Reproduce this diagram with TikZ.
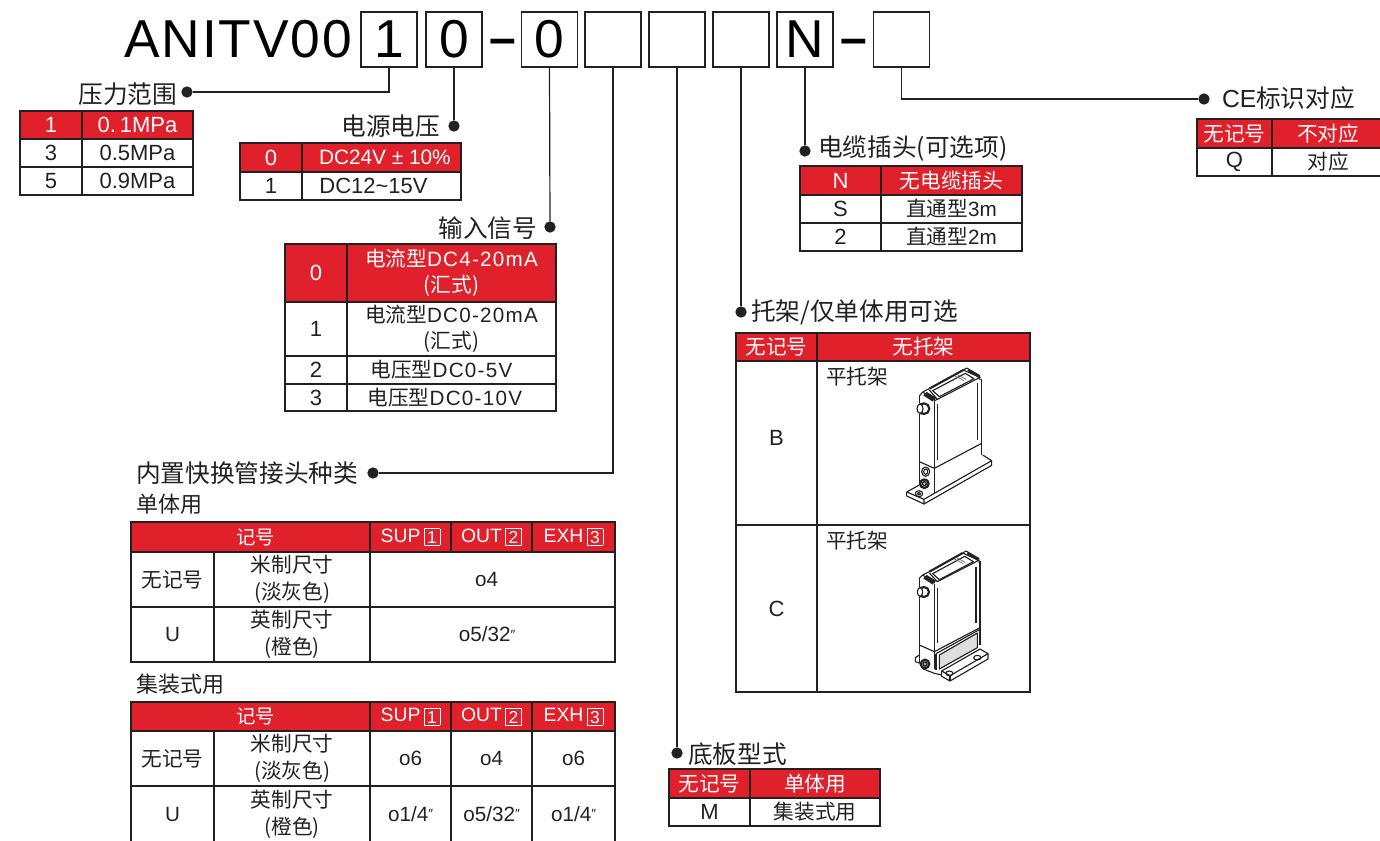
\documentclass[tikz,border=0pt]{standalone}
\usepackage{fontspec}
\setmainfont{Liberation Sans}
\newfontfamily\zhf{Noto Sans CJK SC}
\newfontfamily\titlef[LetterSpace=3.5]{Liberation Sans}
\newfontfamily\spacedf[LetterSpace=6]{Liberation Sans}
\newcommand\zh[1]{{\zhf #1}}
\newcommand\spc[1]{{\spacedf #1}}
\newcommand\inch{{\fontsize{10}{10}\selectfont\raisebox{2pt}{″}}}
\definecolor{redcell}{HTML}{E0202B}
\definecolor{ink}{HTML}{232020}
\definecolor{plategray}{HTML}{DEDEDE}
\newcommand\nbx[1]{\setlength\fboxsep{0.4pt}\setlength\fboxrule{0.45pt}\raisebox{-1.6pt}{\fbox{\makebox[10.8pt]{\rule{0pt}{11.2pt}\fontsize{13}{13}\selectfont\raisebox{0.6pt}{#1}}}}}
\tikzset{
  codebox/.style={draw=ink,line width=0.9pt,inner sep=0pt,outer sep=0pt,minimum width=42pt,minimum height=41.25pt,font=\fontsize{40}{44}\selectfont,text=black},
  conn/.style={draw=ink,line width=0.9pt},
  leader/.style={circle,fill=ink,inner sep=0pt,outer sep=0pt,minimum size=8.5pt},
  dashmark/.style={inner sep=0pt,font=\fontsize{36}{40}\selectfont\bfseries,text=black},
  lab/.style={inner sep=0pt,outer sep=0pt,text=ink,font=\fontsize{18.5}{22}\selectfont},
  subl/.style={inner sep=0pt,outer sep=0pt,text=ink,font=\fontsize{16.5}{20}\selectfont},
  cellb/.style={draw=ink,line width=0.9pt,inner sep=0pt,outer sep=0pt,align=center,text=ink},
  bigc/.style={cellb,font=\fontsize{16.5}{20}\selectfont},
  midc/.style={cellb,font=\fontsize{15.5}{20}\selectfont},
  redb/.style={bigc,fill=redcell,text=white},
  redm/.style={midc,fill=redcell,text=white},
  redh/.style={cellb,fill=redcell,text=white,font=\fontsize{14.5}{18}\selectfont},
  dev/.style={draw=ink,line width=0.85pt,line join=round},
  devk/.style={draw=ink,line width=1.6pt,line join=round},
  devt/.style={draw=ink!70,line width=0.5pt},
}
\newcommand\cellbox[7]{%
  \pgfmathsetmacro\cw{(#5-#3)*0.75}%
  \pgfmathsetmacro\ch{(#6-#4)*0.75}%
  \pgfmathsetmacro\cx{(#3+#5)/2}%
  \pgfmathsetmacro\cy{(#4+#6)/2}%
  \node[#1,minimum width=\cw pt,minimum height=\ch pt] (#2) at (\cx,\cy) {#7};}
\begin{document}
\begin{tikzpicture}[x=0.75pt,y=-0.75pt]
\useasboundingbox (0,0) rectangle (1380,840);
% code line
\node[inner sep=0pt,anchor=west,font=\fontsize{40}{44}\selectfont\titlef,text=black] (title) at (124,39) {ANITV00};
\node[codebox] (b1) at (389,39.5) {1};
\node[codebox] (b2) at (454,39.5) {0};
\node[dashmark] (m1) at (503,40) {\raisebox{-11pt}[0pt][0pt]{–}};
\node[codebox] (b3) at (549.5,39.5) {0};
\node[codebox] (b4) at (613,39.5) {};
\node[codebox] (b5) at (677,39.5) {};
\node[codebox] (b6) at (741,39.5) {};
\node[codebox] (b7) at (805,39.5) {N};
\node[dashmark] (m2) at (854,40) {\raisebox{-11pt}[0pt][0pt]{–}};
\node[codebox] (b8) at (901.5,39.5) {};
% leader dots
\node[leader] (d1) at (187,92) {};
\node[leader] (d2) at (454,126) {};
\node[leader] (d3) at (550,227) {};
\node[leader] (d4) at (373,473) {};
\node[leader] (d5) at (677,753) {};
\node[leader] (d6) at (741,312) {};
\node[leader] (d7) at (805,151) {};
\node[leader] (d8) at (1204,99) {};
% connectors
\draw[conn] (b1.south) |- (d1);
\draw[conn] (b2.south) -- (d2);
\draw[conn] (b3.south) -- (d3);
\draw[conn] (b4.south) |- (d4);
\draw[conn] (b5.south) -- (d5);
\draw[conn] (b6.south) -- (d6);
\draw[conn] (b7.south) -- (d7);
\draw[conn] (b8.south) |- (d8);
% labels
\node[lab,anchor=east] (l1) at (177,94) {\zh{压力范围}};
\node[lab,anchor=east] (l2) at (440,126) {\zh{电源电压}};
\node[lab,anchor=east] (l3) at (537,228) {\zh{输入信号}};
\node[lab,anchor=west] (l4) at (136,473) {\zh{内置快换管接头种类}};
\node[subl,anchor=west] (l4a) at (136,504) {\zh{单体用}};
\node[subl,anchor=west] (l4b) at (136,684) {\zh{集装式用}};
\node[lab,anchor=west] (l5) at (688,754) {\zh{底板型式}};
\node[lab,anchor=west] (l6) at (751,312) {\zh{托架/仅单体用可选}};
\node[lab,anchor=west] (l7) at (818,149) {\zh{电缆插头(可选项)}};
\node[lab,anchor=west] (l8) at (1222,98) {CE\zh{标识对应}};
% pressure
\cellbox{redb}{p1a}{20}{111}{82}{139}{1}
\cellbox{redb}{p1b}{82}{111}{193}{139}{0.\hspace{3pt}1MPa}
\cellbox{bigc}{p2a}{20}{139}{82}{167}{3}
\cellbox{bigc}{p2b}{82}{139}{193}{167}{0.5MPa}
\cellbox{bigc}{p3a}{20}{167}{82}{195}{5}
\cellbox{bigc}{p3b}{82}{167}{193}{195}{0.9MPa}
% voltage
\cellbox{redb}{v1a}{240}{143}{302}{172}{0}
\cellbox{redb}{v1b}{302}{143}{461}{172}{\hspace{5pt}{\fontsize{15.6}{20}\selectfont DC24V ± 10\%}}
\cellbox{bigc}{v2a}{240}{172}{302}{200}{1}
\cellbox{bigc}{v2b}{302}{172}{461}{200}{DC12\char`~15V\hspace{12pt}}
% input
\cellbox{redb}{i1a}{285}{244}{347}{302}{0}
\cellbox{redm}{i1b}{347}{244}{556}{302}{\zh{电流型}\spc{DC4-20mA}\hspace{3pt}\\\zh{(汇式)}\hspace{3pt}}
\cellbox{bigc}{i2a}{285}{302}{347}{356}{1}
\cellbox{midc}{i2b}{347}{302}{556}{356}{\zh{电流型}\spc{DC0-20mA}\hspace{3pt}\\\zh{(汇式)}\hspace{3pt}}
\cellbox{bigc}{i3a}{285}{356}{347}{384}{2}
\cellbox{midc}{i3b}{347}{356}{556}{384}{\zh{电压型}\spc{DC0-5V}\hspace{15pt}}
\cellbox{bigc}{i4a}{285}{384}{347}{411}{3}
\cellbox{midc}{i4b}{347}{384}{556}{411}{\zh{电压型}\spc{DC0-10V}\hspace{10pt}}
% single fittings
\cellbox{redh}{s0a}{131}{522}{370}{552}{\hspace{7.5pt}\zh{记号}}
\cellbox{redh}{s0b}{370}{522}{451}{552}{SUP\,\nbx{1}}
\cellbox{redh}{s0c}{451}{522}{532}{552}{OUT\,\nbx{2}}
\cellbox{redh}{s0d}{532}{522}{615}{552}{EXH\,\nbx{3}}
\cellbox{midc}{s1a}{131}{552}{214}{607}{\zh{无记号}}
\cellbox{midc}{s1b}{214}{552}{370}{607}{\zh{米制尺寸}\\\zh{(淡灰色)}}
\cellbox{midc}{s1c}{370}{552}{615}{607}{o4\hspace{9pt}}
\cellbox{midc}{s2a}{131}{607}{214}{662}{U}
\cellbox{midc}{s2b}{214}{607}{370}{662}{\zh{英制尺寸}\\\zh{(橙色)}}
\cellbox{midc}{s2c}{370}{607}{615}{662}{o5/32\inch\hspace{8pt}}
% manifold fittings
\cellbox{redh}{m0a}{131}{702}{370}{731}{\hspace{7.5pt}\zh{记号}}
\cellbox{redh}{m0b}{370}{702}{451}{731}{SUP\,\nbx{1}}
\cellbox{redh}{m0c}{451}{702}{532}{731}{OUT\,\nbx{2}}
\cellbox{redh}{m0d}{532}{702}{615}{731}{EXH\,\nbx{3}}
\cellbox{midc}{m1a}{131}{731}{214}{786}{\zh{无记号}}
\cellbox{midc}{m1b}{214}{731}{370}{786}{\zh{米制尺寸}\\\zh{(淡灰色)}}
\cellbox{midc}{m1c}{370}{731}{451}{786}{o6}
\cellbox{midc}{m1d}{451}{731}{532}{786}{o4}
\cellbox{midc}{m1e}{532}{731}{615}{786}{o6}
\cellbox{midc}{m2a}{131}{786}{214}{842}{U}
\cellbox{midc}{m2b}{214}{786}{370}{842}{\zh{英制尺寸}\\\zh{(橙色)}}
\cellbox{midc}{m2c}{370}{786}{451}{842}{o1/4\inch}
\cellbox{midc}{m2d}{451}{786}{532}{842}{o5/32\inch}
\cellbox{midc}{m2e}{532}{786}{615}{842}{o1/4\inch}
% connector plug
\cellbox{redb}{c1a}{800}{166}{881}{195}{N}
\cellbox{redm}{c1b}{881}{166}{1022}{195}{\zh{无电缆插头}}
\cellbox{bigc}{c2a}{800}{195}{881}{223}{S}
\cellbox{midc}{c2b}{881}{195}{1022}{223}{\zh{直通型}3m}
\cellbox{bigc}{c3a}{800}{223}{881}{251}{2}
\cellbox{midc}{c3b}{881}{223}{1022}{251}{\zh{直通型}2m}
% CE
\cellbox{redm}{e1a}{1197}{119}{1272}{148}{\zh{无记号}}
\cellbox{redm}{e1b}{1272}{119}{1384}{148}{\zh{不对应}}
\cellbox{bigc}{e2a}{1197}{148}{1272}{176}{Q}
\cellbox{midc}{e2b}{1272}{148}{1384}{176}{\zh{对应}}
% bracket
\cellbox{redm}{k1a}{736}{333}{817}{361}{\zh{无记号}}
\cellbox{redm}{k1b}{817}{333}{1030}{361}{\zh{无托架}}
\cellbox{bigc}{k2a}{736}{361}{817}{525}{\raisebox{-1.5pt}[0pt][0pt]{B}}
\cellbox{bigc}{k2b}{817}{361}{1030}{525}{}
\cellbox{bigc}{k3a}{736}{525}{817}{692}{C}
\cellbox{bigc}{k3b}{817}{525}{1030}{692}{}
\node[inner sep=0pt,anchor=west,text=ink,font=\fontsize{15.5}{20}\selectfont] (kt1) at (826,377) {\zh{平托架}};
\node[inner sep=0pt,anchor=west,text=ink,font=\fontsize{15.5}{20}\selectfont] (kt2) at (826,541) {\zh{平托架}};
% base
\cellbox{redm}{f1a}{669}{769}{750}{798}{\zh{无记号}}
\cellbox{redm}{f1b}{750}{769}{880}{798}{\zh{单体用}}
\cellbox{bigc}{f2a}{669}{798}{750}{826}{M}
\cellbox{midc}{f2b}{750}{798}{880}{826}{\zh{集装式用}}
% device B
\begin{scope}[shift={(900,360)},x=0.25pt,y=-0.25pt]
  \draw[dev] (58,108) -- (58,375) (103,122) -- (103,400) (245,58) -- (245,285);
  \draw[dev] (58,305) -- (103,325) -- (245,250);
  \draw[dev] (58,108) -- (68,96) (103,122) -- (112,118);
  \draw[devk] (88,86) -- (190,30);
  \draw[dev] (88,90) -- (112,118) -- (240,52) -- (190,30);
  \draw[dev] (98,92) -- (118,110) -- (222,56) -- (196,40) -- cycle;
  \draw[dev] (68,96) -- (88,86) (68,96) -- (104,120);
  \draw[devk] (72,104) -- (100,122) (78,98) -- (106,116);
  \draw[dev] (190,30) -- (200,24) -- (238,46) -- (240,60);
  \draw[devk] (204,30) -- (236,50);
  \draw[devt] (165,48) -- (192,62) (172,44) -- (198,58);
  \draw[dev] (113,132) -- (113,300);
  \draw[dev] (232,70) -- (232,240);
  \fill[white] (68,146) circle (18);
  \draw[devk] (72,146) circle (16);
  \draw[dev] (60,131) -- (72,130) (60,161) -- (72,162);
  \draw[dev,fill=white] (60,146) ellipse (9 and 14);
  \draw[dev] (20,396) -- (58,375) (103,400) -- (72,418) -- (20,396);
  \draw[dev] (103,400) -- (275,302) -- (248,285);
  \draw[dev] (20,396) -- (20,408) -- (72,432) -- (72,418);
  \draw[dev] (72,432) -- (275,316) -- (275,302);
  \draw[dev] (77,335) ellipse (12 and 14);
  \draw[dev] (77,335) ellipse (6 and 8);
  \draw[devk,fill=ink!35] (73,371) circle (13);
  \draw[dev] (73,371) circle (6);
  \draw[dev] (57,401) ellipse (11 and 9);
  \draw[dev] (57,401) ellipse (5 and 4);
\end{scope}
% device C
\begin{scope}[shift={(900,545)},x=0.25pt,y=-0.25pt]
  \draw[dev] (58,100) -- (58,352) (103,118) -- (103,372) (240,48) -- (240,300);
  \draw[dev] (58,300) -- (103,320) -- (240,248);
  \draw[devk] (88,80) -- (188,24);
  \draw[dev] (88,84) -- (112,110) -- (236,46) -- (188,24);
  \draw[dev] (98,86) -- (118,104) -- (220,50) -- (194,34) -- cycle;
  \draw[dev] (68,90) -- (88,80) (58,100) -- (68,90) (68,90) -- (104,114);
  \draw[devk] (72,98) -- (100,116) (78,92) -- (106,110);
  \draw[dev] (188,24) -- (198,18) -- (236,40) -- (238,54);
  \draw[devk] (202,24) -- (234,44);
  \draw[devt] (163,42) -- (190,56) (170,38) -- (196,52);
  \draw[dev] (113,128) -- (113,295);
  \draw[dev] (228,65) -- (228,235);
  \fill[white] (68,141) circle (17);
  \draw[devk] (72,141) circle (15);
  \draw[dev] (60,127) -- (72,126) (60,155) -- (72,156);
  \draw[dev,fill=white] (60,141) ellipse (8 and 13);
  \draw[dev,fill=plategray] (118,330) -- (232,264) -- (232,308) -- (118,372) -- cycle;
  \draw[dev] (108,326) -- (238,254);
  \draw[dev] (108,326) -- (108,376);
  \draw[dev] (58,352) -- (70,372) -- (103,385) -- (125,390);
  \draw[dev] (58,330) -- (46,338) -- (46,350) -- (58,354);
  \draw[devk,fill=ink!40] (75,357) circle (13);
  \draw[dev] (75,357) circle (6);
  \draw[dev] (125,378) -- (240,312) -- (264,326) -- (150,392) -- cycle;
  \draw[dev] (125,378) -- (125,394) -- (150,408) -- (264,342) -- (264,326);
  \draw[dev] (150,392) -- (150,408);
  \draw[dev] (148,385) ellipse (11 and 7);
  \draw[dev] (232,338) ellipse (11 and 7);
\end{scope}
\end{tikzpicture}
\end{document}
